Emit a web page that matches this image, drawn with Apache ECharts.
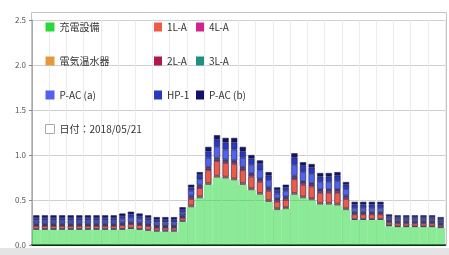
<!DOCTYPE html>
<html>
<head>
<meta charset="utf-8">
<script src="https://cdn.jsdelivr.net/npm/echarts@6/dist/echarts.min.js"></script>
<style>
  html, body { margin: 0; padding: 0; background: #fff; }
  #chart { width: 449px; height: 255px; }
</style>
</head>
<body>
<div id="chart"></div>
<script>
// 時刻（30分ごと）
var times = [
  '0:00', '0:30', '1:00', '1:30', '2:00', '2:30', '3:00', '3:30',
  '4:00', '4:30', '5:00', '5:30', '6:00', '6:30', '7:00', '7:30',
  '8:00', '8:30', '9:00', '9:30', '10:00', '10:30', '11:00', '11:30',
  '12:00', '12:30', '13:00', '13:30', '14:00', '14:30', '15:00', '15:30',
  '16:00', '16:30', '17:00', '17:30', '18:00', '18:30', '19:00', '19:30',
  '20:00', '20:30', '21:00', '21:30', '22:00', '22:30', '23:00', '23:30'
]
var yTicks = [0, 0.5, 1.0, 1.5, 2.0, 2.5]

// 各系統の値
var juden = [0.17, 0.17, 0.17, 0.17, 0.17, 0.17, 0.17, 0.17, 0.17, 0.17, 0.17, 0.18, 0.17, 0.16, 0.15, 0.15,
  0.15, 0.26, 0.42, 0.52, 0.67, 0.75, 0.74, 0.72, 0.67, 0.61, 0.56, 0.48, 0.39, 0.40, 0.56, 0.52,
  0.50, 0.45, 0.45, 0.44, 0.39, 0.28, 0.28, 0.28, 0.28, 0.21, 0.20, 0.20, 0.20, 0.20, 0.20, 0.19]
var onsuiki = [0.01, 0.01, 0.01, 0.01, 0.01, 0.01, 0.01, 0.01, 0.01, 0.01, 0.01, 0.01, 0.01, 0.01, 0.01, 0.01,
  0.01, 0.01, 0.02, 0.02, 0.02, 0.02, 0.02, 0.02, 0.02, 0.02, 0.02, 0.02, 0.02, 0.02, 0.02, 0.02,
  0.02, 0.02, 0.02, 0.02, 0.02, 0.01, 0.01, 0.01, 0.01, 0.01, 0.01, 0.01, 0.01, 0.01, 0.01, 0.01]
var l1a = [0.03, 0.03, 0.03, 0.03, 0.03, 0.03, 0.03, 0.03, 0.03, 0.03, 0.04, 0.04, 0.04, 0.04, 0.03, 0.03,
  0.03, 0.03, 0.07, 0.09, 0.14, 0.16, 0.15, 0.16, 0.14, 0.13, 0.12, 0.10, 0.07, 0.08, 0.15, 0.13,
  0.13, 0.11, 0.11, 0.12, 0.10, 0.05, 0.05, 0.05, 0.05, 0.03, 0.03, 0.03, 0.03, 0.03, 0.03, 0.02]
var l4a = [0.01, 0.01, 0.01, 0.01, 0.01, 0.01, 0.01, 0.01, 0.01, 0.01, 0.01, 0.01, 0.01, 0.01, 0.01, 0.01,
  0.01, 0.01, 0.02, 0.02, 0.02, 0.02, 0.02, 0.02, 0.02, 0.02, 0.02, 0.02, 0.02, 0.02, 0.02, 0.02,
  0.02, 0.02, 0.02, 0.02, 0.02, 0.01, 0.01, 0.01, 0.01, 0.01, 0.01, 0.01, 0.01, 0.01, 0.01, 0.01]
var l2a = [0.01, 0.01, 0.01, 0.01, 0.01, 0.01, 0.01, 0.01, 0.01, 0.01, 0.01, 0.01, 0.01, 0.01, 0.01, 0.01,
  0.01, 0.01, 0.01, 0.01, 0.01, 0.01, 0.01, 0.01, 0.01, 0.01, 0.01, 0.01, 0.01, 0.01, 0.01, 0.01,
  0.01, 0.01, 0.01, 0.01, 0.01, 0.01, 0.01, 0.01, 0.01, 0.01, 0.01, 0.01, 0.01, 0.01, 0.01, 0.01]
var l3a = [0.01, 0.01, 0.01, 0.01, 0.01, 0.01, 0.01, 0.01, 0.01, 0.01, 0.01, 0.01, 0.01, 0.01, 0.01, 0.01,
  0.01, 0.01, 0.01, 0.01, 0.01, 0.01, 0.01, 0.01, 0.01, 0.01, 0.01, 0.01, 0.01, 0.01, 0.01, 0.01,
  0.01, 0.01, 0.01, 0.01, 0.01, 0.01, 0.01, 0.01, 0.01, 0.01, 0.01, 0.01, 0.01, 0.01, 0.01, 0.01]
var pacA = [0.03, 0.03, 0.03, 0.03, 0.03, 0.03, 0.03, 0.03, 0.03, 0.03, 0.04, 0.04, 0.04, 0.03, 0.03, 0.03,
  0.03, 0.03, 0.05, 0.06, 0.10, 0.12, 0.11, 0.12, 0.10, 0.09, 0.09, 0.08, 0.05, 0.06, 0.12, 0.10,
  0.10, 0.08, 0.08, 0.09, 0.07, 0.04, 0.04, 0.04, 0.04, 0.02, 0.02, 0.02, 0.02, 0.02, 0.02, 0.02]
var hp1 = [0.03, 0.03, 0.03, 0.03, 0.03, 0.03, 0.03, 0.03, 0.03, 0.03, 0.03, 0.04, 0.03, 0.03, 0.03, 0.03,
  0.03, 0.03, 0.04, 0.05, 0.07, 0.08, 0.08, 0.08, 0.07, 0.07, 0.07, 0.05, 0.04, 0.04, 0.08, 0.07,
  0.07, 0.06, 0.06, 0.06, 0.05, 0.04, 0.04, 0.04, 0.04, 0.02, 0.02, 0.02, 0.02, 0.02, 0.02, 0.02]
var pacB = [0.03, 0.03, 0.03, 0.03, 0.03, 0.03, 0.03, 0.03, 0.03, 0.03, 0.03, 0.03, 0.03, 0.03, 0.03, 0.03,
  0.03, 0.03, 0.03, 0.03, 0.05, 0.05, 0.05, 0.05, 0.05, 0.04, 0.04, 0.04, 0.03, 0.03, 0.05, 0.04,
  0.04, 0.04, 0.04, 0.04, 0.03, 0.03, 0.03, 0.03, 0.03, 0.02, 0.02, 0.02, 0.02, 0.02, 0.02, 0.02]

var chart = echarts.init(document.getElementById('chart'))

// 積み上げ棒の共通設定
function stackBar(name, data, color) {
  return {
    name: name,
    type: 'bar',
    stack: 'total',
    data: data,
    barCategoryGap: '28%',
    itemStyle: { color: color, borderColor: '#20204a', borderWidth: 0.6 }
  }
}

var legendText = { fontSize: 10, color: '#333', lineHeight: 12, fontFamily: 'Noto Sans CJK JP' }
var legendIcon = { borderWidth: 0 }

var option = {
  animation: false,
  backgroundColor: '#fff',
  textStyle: { fontFamily: 'Noto Sans CJK JP' },
  grid: { left: 32, right: 4, top: 20, bottom: 10 },
  graphic: [
    { type: 'rect', shape: { x: 0, y: 248, width: 449, height: 7 }, style: { fill: '#e4e4e4' }, z: -1 },
    { type: 'rect', shape: { x: 31.5, y: 12.5, width: 415, height: 233 }, style: { fill: 'none', stroke: '#c4c4c4' }, z: -1 }
  ],
  legend: [
    {
      orient: 'vertical', left: 40, top: 16, itemWidth: 9, itemHeight: 9, itemGap: 22,
      icon: 'rect', itemStyle: legendIcon,
      textStyle: legendText,
      data: [
        { name: '充電設備', itemStyle: { color: '#2ad83e', opacity: 1 } },
        '電気温水器', 'P-AC (a)',
        { name: '日付：2018/05/21', itemStyle: { color: '#fff', borderColor: '#aaa', borderWidth: 1 } }
      ]
    },
    {
      orient: 'vertical', left: 149, top: 16, itemWidth: 8, itemHeight: 9, itemGap: 22,
      icon: 'rect', itemStyle: legendIcon,
      textStyle: legendText,
      data: ['1L-A', '2L-A', 'HP-1']
    },
    {
      orient: 'vertical', left: 191, top: 16, itemWidth: 8, itemHeight: 9, itemGap: 22,
      icon: 'rect', itemStyle: legendIcon,
      textStyle: legendText,
      data: ['4L-A', '3L-A', 'P-AC (b)']
    }
  ],
  xAxis: [
    {
      type: 'category',
      data: times,
      axisLine: { lineStyle: { color: '#1f2a1f', width: 2 } },
      axisTick: { show: false },
      axisLabel: { show: false },
      splitLine: { show: true, interval: 1, lineStyle: { color: '#ececec' } }
    },
    {
      type: 'category',
      data: times,
      show: false
    }
  ],
  yAxis: {
    type: 'value',
    min: yTicks[0],
    max: yTicks[yTicks.length - 1],
    interval: 0.5,
    axisLine: { show: true, lineStyle: { color: '#aaa' } },
    axisTick: { show: true, length: 3, lineStyle: { color: '#888' } },
    axisLabel: { fontSize: 8, color: '#555', margin: 6, formatter: function (v) { return v.toFixed(1) } },
    splitLine: { lineStyle: { color: '#cfcfcf' } }
  },
  series: [
    {
      name: '充電設備',
      type: 'bar',
      xAxisIndex: 1,
      barCategoryGap: '0%',
      data: juden,
      itemStyle: { color: '#2ad83e', opacity: 0.55 }
    },
    // 充電設備の上に積むための透明な土台
    {
      name: 'base',
      type: 'bar',
      stack: 'total',
      data: juden,
      silent: true,
      itemStyle: { color: 'transparent', borderWidth: 0 }
    },
    stackBar('電気温水器', onsuiki, '#e49a3c'),
    stackBar('1L-A', l1a, '#ee5a48'),
    stackBar('4L-A', l4a, '#d0268c'),
    stackBar('2L-A', l2a, '#b01a4a'),
    stackBar('3L-A', l3a, '#209080'),
    stackBar('P-AC (a)', pacA, '#5062ee'),
    stackBar('HP-1', hp1, '#2a38c0'),
    stackBar('P-AC (b)', pacB, '#12126a'),
    {
      name: '日付：2018/05/21',
      type: 'line',
      data: [],
      itemStyle: { color: '#fff', borderColor: '#aaa', borderWidth: 1 }
    }
  ]
}
chart.setOption(option)
</script>
</body>
</html>
